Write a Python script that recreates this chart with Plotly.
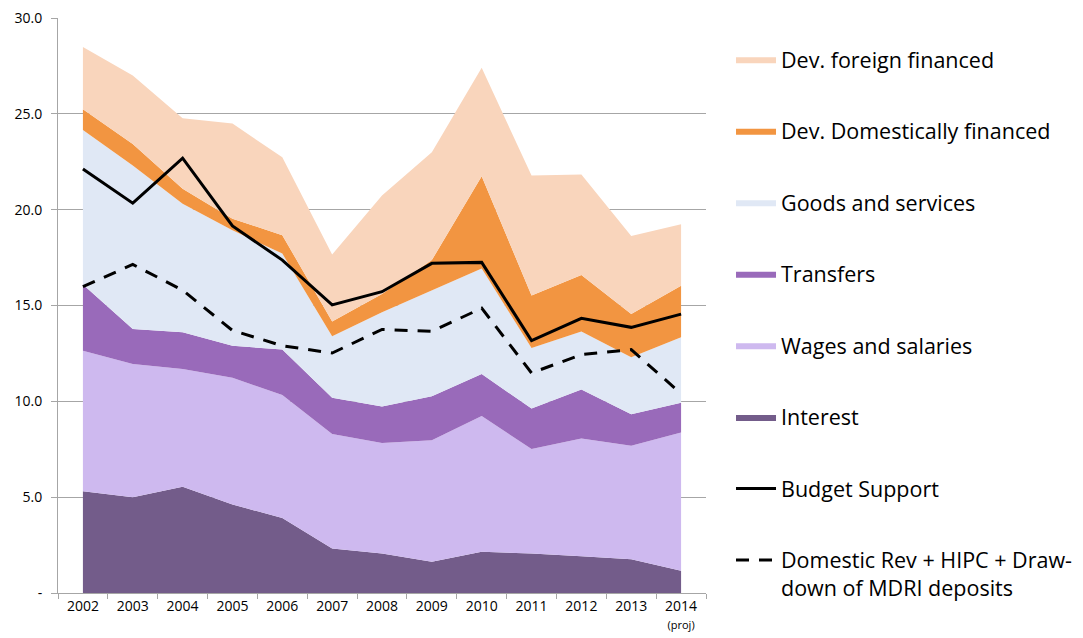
import plotly.graph_objects as go

years = ["2002", "2003", "2004", "2005", "2006", "2007", "2008", "2009",
         "2010", "2011", "2012", "2013", "2014"]
tick_text = ["2002", "2003", "2004", "2005", "2006", "2007", "2008", "2009",
             "2010", "2011", "2012", "2013", "2014<br><span style='font-size:11px'>(proj)</span>"]

interest = [5.31, 5.00, 5.55, 4.62, 3.91, 2.32, 2.06, 1.63, 2.15, 2.06, 1.92, 1.76, 1.16]
wages = [7.33, 6.95, 6.14, 6.61, 6.42, 5.97, 5.76, 6.34, 7.09, 5.45, 6.14, 5.92, 7.21]
transfers = [3.46, 1.82, 1.91, 1.67, 2.37, 1.90, 1.91, 2.30, 2.19, 2.11, 2.56, 1.65, 1.56]
goods = [8.05, 8.53, 6.71, 6.02, 5.01, 3.20, 4.92, 5.54, 5.50, 3.16, 3.03, 2.97, 3.41]
dev_domestic = [1.09, 1.12, 0.78, 0.61, 0.96, 0.78, 0.95, 1.56, 4.81, 2.74, 2.94, 2.25, 2.69]
dev_foreign = [3.25, 3.58, 3.68, 4.96, 4.06, 3.49, 5.14, 5.62, 5.66, 6.26, 5.24, 4.08, 3.21]
budget_support = [22.12, 20.34, 22.69, 19.15, 17.37, 15.03, 15.72, 17.20, 17.25, 13.17, 14.33, 13.86, 14.55]
domestic_rev = [15.98, 17.14, 15.80, 13.70, 12.90, 12.52, 13.75, 13.65, 14.86, 11.48, 12.44, 12.70, 10.40]

areas = [
    ("Interest", interest, "#735C8A", 6),
    ("Wages and salaries", wages, "#CEB9EF", 5),
    ("Transfers", transfers, "#996ABA", 4),
    ("Goods and services", goods, "#E0E8F5", 3),
    ("Dev. Domestically financed", dev_domestic, "#F29541", 2),
    ("Dev. foreign financed", dev_foreign, "#F9D5BC", 1),
]

fig = go.Figure()
for name, vals, color, rank in areas:
    fig.add_trace(go.Scatter(
        x=years, y=vals, name=name, mode="lines", stackgroup="exp",
        line=dict(width=0, color=color), fillcolor=color,
        legendrank=rank, legendgroup=name,
    ))

fig.add_trace(go.Scatter(
    x=years, y=budget_support, name="Budget Support", mode="lines",
    line=dict(color="black", width=3), legendrank=7, legendgroup="bs",
))
fig.add_trace(go.Scatter(
    x=years, y=domestic_rev, name="Domestic Rev + HIPC + Draw-<br>down of MDRI deposits",
    mode="lines", line=dict(color="black", width=3, dash="13px,10px"),
    legendrank=8, legendgroup="dr",
))

fig.update_layout(
    width=1083, height=638,
    margin=dict(l=50, r=385, t=10, b=53, autoexpand=False),
    paper_bgcolor="white", plot_bgcolor="white",
    font=dict(family="Open Sans, Arial, sans-serif", color="black", size=13),
    showlegend=True,
    legend=dict(
        x=1.0386, y=0.964, xanchor="left", yanchor="top",
        font=dict(size=21.5, color="black"),
        tracegroupgap=40.6, itemwidth=40, valign="top",
        bgcolor="rgba(0,0,0,0)",
    ),
    xaxis=dict(
        type="category", range=[-0.5, 12.5], automargin=False,
        tickmode="array", tickvals=years, ticktext=tick_text,
        tickson="boundaries", ticks="outside", ticklen=5, tickcolor="#A6A6A6",
        showline=True, linecolor="#A6A6A6", linewidth=1,
        showgrid=False, tickfont=dict(size=14), ticklabeloverflow="allow",
    ),
    yaxis=dict(
        range=[0, 30], tickmode="array", automargin=False,
        tickvals=[0, 5, 10, 15, 20, 25, 30],
        ticktext=["-", "5.0", "10.0", "15.0", "20.0", "25.0", "30.0"],
        showgrid=True, gridcolor="#A6A6A6", gridwidth=1,
        showline=True, linecolor="#A6A6A6", linewidth=1,
        ticks="outside", ticklen=6, tickcolor="#A6A6A6",
        zeroline=False, tickfont=dict(size=14),
        ticklabeloverflow="allow", ticklabelstandoff=6,
    ),
)

fig.write_html("out.html")
